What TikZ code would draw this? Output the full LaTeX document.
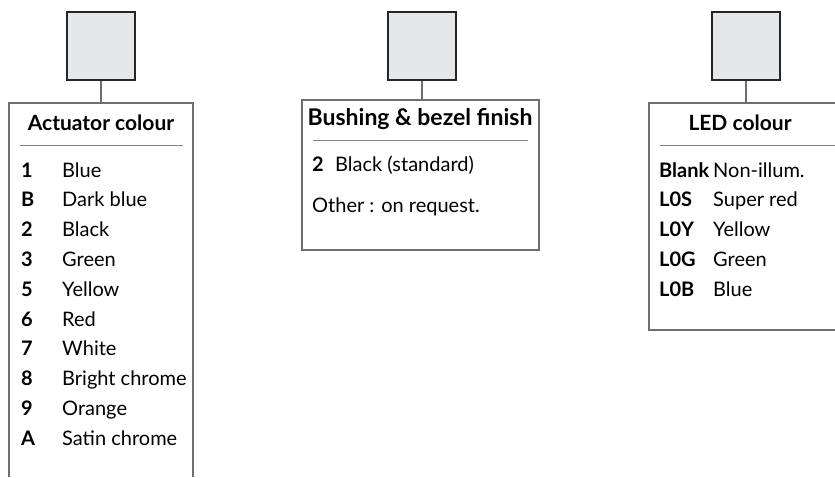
\documentclass[tikz,border=0pt]{standalone}
\usepackage{fontspec}
\setmainfont{Lato}
\definecolor{sqfill}{HTML}{E6E7E8}
\definecolor{framec}{HTML}{6D6E71}
\definecolor{rulec}{HTML}{808285}
\tikzset{
  sq/.style={draw=black!85, line width=2.2pt, fill=sqfill, minimum size=68pt, inner sep=0pt},
  frame/.style={draw=framec, line width=1.1pt},
  hrule/.style={draw=rulec, line width=0.9pt},
  conn/.style={draw=framec, line width=1.1pt},
  hdr/.style={font=\fontsize{21}{24}\selectfont\bfseries, inner sep=0pt},
  code/.style={font=\fontsize{20}{24}\selectfont\bfseries, anchor=base west, inner sep=0pt},
  lab/.style={font=\fontsize{20}{24}\selectfont, anchor=base west, inner sep=0pt}
}
\begin{document}
\begin{tikzpicture}[x=1pt,y=-1pt]
\useasboundingbox (0,0) rectangle (835,477);
% squares
\node[sq] (s1) at (101,46) {};
\node[sq] (s2) at (422,46) {};
\node[sq] (s3) at (746,46) {};
% box tops (connector ends)
\coordinate (t1) at (101,103);
\coordinate (t2) at (422,100);
\coordinate (t3) at (746,103);
\draw[conn] (s1.south) -- (t1);
\draw[conn] (s2.south) -- (t2);
\draw[conn] (s3.south) -- (t3);
% box 1 (open bottom)
\draw[frame] (9,477) -- (9,103) -- (193,103) -- (193,477);
\node[hdr] (h1) at (101,123) {Actuator colour};
\draw[hrule] (20,145) -- (183,145);
\foreach \c/\l [count=\i from 0] in {1/Blue, B/Dark blue, 2/Black, 3/Green, 5/Yellow, 6/Red, 7/White, 8/Bright chrome, 9/Orange, A/Satin chrome}{
  \node[code] (ca\i) at (21,{177+29.8*\i}) {\c};
  \node[lab] (la\i) at (62,{177+29.8*\i}) {\l};
}
% box 2
\draw[frame] (302,100) rectangle (539,250);
\node[hdr, font=\fontsize{23}{26}\selectfont\bfseries] (h2) at (420,119) {Bushing \& bezel finish};
\draw[hrule] (313,140) -- (528,140);
\node[code] (cb0) at (312,171) {2};
\node[lab] (lb0) at (335,171) {Black (standard)};
\node[lab] (lb1) at (312,212) {Other : on request.};
% box 3 (runs past right edge)
\draw[frame] (840,103) -- (649,103) -- (649,330) -- (840,330);
\node[hdr] (h3) at (740,123) {LED colour};
\draw[hrule] (660,145) -- (835,145);
\foreach \c/\l [count=\i from 0] in {Blank/Non-illum., L0S/Super red, L0Y/Yellow, L0G/Green, L0B/Blue}{
  \node[code] (cc\i) at (659,{177+29.8*\i}) {\c};
  \node[lab] (lc\i) at (713,{177+29.8*\i}) {\l};
}
\end{tikzpicture}
\end{document}
